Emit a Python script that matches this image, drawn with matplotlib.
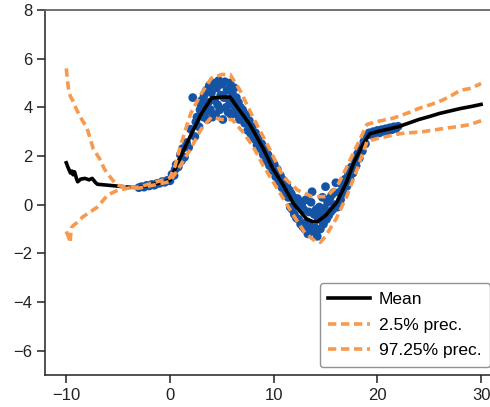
import matplotlib
matplotlib.use("Agg")
import matplotlib.pyplot as plt

plt.rcParams['font.family'] = ['Liberation Sans', 'DejaVu Sans']

# ---- data ----
pts_x = [-3.0, -2.75, -2.5, -2.25, -2.0, -1.75, -1.5, -1.25, -1.0, -0.75, -0.5, -0.25, 0.0,
         0.2, 0.4, 0.5, 0.6, 0.8, 1.0, 1.1, 1.2, 1.4, 1.6, 1.8, 2.0, 2.2, 2.4, 2.5, 2.6, 2.8, 2.9, 3.0,
         3.1, 3.2, 3.3, 3.4, 3.5, 3.6, 3.7, 3.8, 3.9, 4.0, 4.1, 4.2, 4.3, 4.4, 4.5, 4.6, 4.7, 4.8, 4.9,
         5.0, 5.1, 5.2, 5.3, 5.4, 5.5, 5.6, 5.7, 5.8, 5.9, 6.0, 6.1, 6.2, 6.3, 6.4, 6.5, 6.6, 6.7, 6.8,
         6.9, 7.0,
         7.2, 7.35, 7.5, 7.65, 7.8, 7.95, 8.1, 8.25, 8.4, 8.55, 8.7, 8.85, 9.0, 9.15, 9.3, 9.45, 9.6,
         9.75, 9.9, 10.05, 10.2, 10.35, 10.5, 10.65, 10.8, 10.95, 11.1, 11.25, 11.4,
         11.5, 11.6, 11.7, 11.8, 11.9, 12.0, 12.1, 12.2, 12.3, 12.4, 12.5, 12.6, 12.7, 12.8, 12.9,
         13.0, 13.1, 13.2, 13.3, 13.4, 13.5, 13.6, 13.7, 13.8, 13.9, 14.0, 14.1, 14.2, 14.3, 14.4,
         14.5, 14.6, 14.7, 14.8, 14.9, 15.0, 15.1, 15.2, 15.3, 15.4, 15.5, 15.6, 15.7, 15.8, 15.9, 16.0,
         16.15, 16.3, 16.45, 16.6, 16.75, 16.9, 17.05, 17.2, 17.35, 17.5, 17.65, 17.8, 17.95, 18.1,
         18.25, 18.4, 18.55, 18.7, 18.85, 19.0,
         19.2, 19.4, 19.6, 19.8, 20.0, 20.2, 20.4, 20.6, 20.8, 21.0, 21.2, 21.4, 21.6, 21.8, 22.0]
pts_y = [0.70, 0.74, 0.72, 0.79, 0.77, 0.83, 0.80, 0.87, 0.88, 0.95, 0.92, 1.00, 0.98,
         1.25, 1.20, 1.45, 1.65, 1.55, 2.05, 1.80, 2.30, 1.95, 2.55, 2.35, 3.10, 4.40, 2.80, 3.40, 3.60, 3.20, 3.90, 4.10,
         4.30, 3.60, 4.50, 3.80, 4.70, 3.50, 4.20, 4.90, 3.90, 4.60, 3.60, 5.00, 4.30, 3.70, 4.80, 4.10, 5.10, 3.90, 4.50,
         4.95, 3.50, 4.40, 5.05, 4.00, 4.70, 3.80, 4.30, 5.00, 3.70, 4.60, 4.10, 4.80, 3.90, 4.40, 3.70, 4.20, 3.50, 4.00,
         3.60, 3.90,
         3.35, 3.70, 3.05, 3.45, 2.90, 3.20, 2.70, 2.95, 2.45, 2.75, 2.30, 2.50, 2.05, 2.25, 1.80, 2.05, 1.60,
         1.85, 1.40, 1.65, 1.15, 1.45, 0.95, 1.20, 0.70, 1.00, 0.45, 0.80, 0.30,
         0.60, -0.10, 0.45, -0.20, 0.30, -0.40, 0.15, -0.55, 0.25, -0.60, 0.10, -0.80, 0.00, -0.90, -0.20,
         -1.00, 0.20, -0.70, -1.20, -0.30, -0.90, 0.10, 0.53, -1.10, -0.40, -0.95, -0.20, -1.30, -0.60, -0.10,
         -1.00, -0.35, 0.30, -0.80, -0.15, 0.74, -0.60, 0.10, -0.45, 0.25, -0.30, 0.40, -0.20, 0.50, 0.00, 0.90,
         -0.10, 0.50, 0.20, 0.80, 0.45, 1.05, 0.75, 1.30, 1.05, 1.55, 1.30, 1.85, 1.60, 2.10,
         1.90, 2.35, 2.20, 2.60, 2.50, 2.85,
         2.95, 2.87, 3.00, 2.92, 3.05, 2.95, 3.08, 3.00, 3.12, 3.04, 3.16, 3.08, 3.20, 3.13, 3.22]

mean_x = [-10.0, -9.8, -9.6, -9.45, -9.35, -9.2, -9.0, -8.9, -8.6, -8.2, -7.8, -7.5, -7.2, -7.0,
          -6.0, -5.0, -4.0, -3.0, 0.0, 1.0, 2.0, 3.0, 4.0, 5.0, 5.8, 6.5, 7.7, 9.0, 9.9, 11.0, 11.9,
          12.6, 13.2, 13.8, 14.2, 15.0, 16.1, 17.0, 17.7, 18.4, 19.0, 19.3, 20.0, 21.0, 22.0, 23.0,
          24.0, 25.0, 26.0, 27.0, 28.0, 29.0, 30.0]
mean_y = [1.72, 1.50, 1.30, 1.38, 1.23, 1.35, 1.05, 0.94, 1.05, 1.08, 1.02, 1.08, 0.92, 0.84,
          0.80, 0.76, 0.72, 0.70, 1.00, 1.95, 2.85, 3.72, 4.38, 4.42, 4.42, 4.00, 3.30, 2.30, 1.50, 0.75, 0.05,
          -0.30, -0.60, -0.70, -0.70, -0.45, 0.10, 0.90, 1.70, 2.30, 2.75, 2.92, 3.00, 3.10, 3.20, 3.35,
          3.50, 3.62, 3.75, 3.85, 3.95, 4.03, 4.12]

upper_x = [-10.0, -9.8, -9.6, -9.4, -9.0, -8.5, -8.0, -7.4, -6.8, -6.3, -5.7, -5.1, -4.5, -4.0, -3.0,
           0.0, 0.5, 1.0, 2.0, 3.0, 4.0, 5.0, 5.8, 6.75, 8.0, 9.65, 10.9, 12.3, 13.7, 15.1, 16.1, 17.0,
           18.0, 19.0, 20.0, 21.5, 23.0, 24.1, 25.2, 26.3, 27.2, 28.0, 29.0, 30.0]
upper_y = [5.60, 4.80, 4.45, 4.30, 3.90, 3.50, 3.15, 2.30, 1.90, 1.45, 1.10, 0.80, 0.74, 0.72, 0.72,
           1.10, 1.60, 2.40, 3.75, 4.55, 5.20, 5.35, 5.35, 4.70, 3.60, 2.25, 1.15, 0.60, 0.33, 0.33, 0.74, 1.50,
           2.40, 3.30, 3.42, 3.55, 3.78, 3.97, 4.12, 4.30, 4.50, 4.70, 4.78, 4.98]

lower_x = [-10.0, -9.8, -9.65, -9.5, -9.3, -9.0, -8.4, -7.7, -7.0, -6.0, -5.0, -4.0, -3.0,
           0.0, 1.0, 2.0, 3.0, 4.0, 5.0, 6.0, 7.0, 8.0, 9.0, 10.0, 11.0, 12.0, 13.0, 14.0, 14.5, 15.0,
           16.0, 17.0, 18.0, 19.0, 20.0, 22.2, 24.4, 26.7, 28.0, 29.0, 30.0]
lower_y = [-1.10, -1.30, -1.55, -0.95, -0.85, -0.75, -0.50, -0.30, -0.10, 0.40, 0.60, 0.68, 0.68,
           0.95, 1.60, 2.30, 3.10, 3.60, 3.50, 3.50, 3.00, 2.40, 1.60, 0.90, 0.20, -0.50, -1.15, -1.50, -1.55, -1.30,
           -0.60, 0.30, 1.40, 2.60, 2.72, 2.92, 3.00, 3.15, 3.22, 3.30, 3.45]

x_ticks = [-10, 0, 10, 20, 30]
y_ticks = [-6, -4, -2, 0, 2, 4, 6, 8]
legend_labels = ["Mean", "2.5% prec.", "97.25% prec."]

# ---- styling ----
blue = '#1553a5'
orange = '#f8994d'

fig = plt.figure(figsize=(4.9, 4.07), dpi=100)
ax = fig.add_axes([45 / 490, 32 / 407, 445 / 490, 365 / 407])

ax.scatter(pts_x, pts_y, s=40, color=blue, edgecolors='none', zorder=2)
ax.plot(mean_x, mean_y, color='black', lw=2.6, zorder=3, label=legend_labels[0])
ax.plot(lower_x, lower_y, color=orange, lw=2.6, dashes=(2.3, 1.3), zorder=4, label=legend_labels[1])
ax.plot(upper_x, upper_y, color=orange, lw=2.6, dashes=(2.3, 1.3), zorder=4, label=legend_labels[2])

ax.set_xlim(-12.05, 30.86)
ax.set_ylim(-7, 8)
ax.set_xticks(x_ticks)
ax.set_yticks(y_ticks)
ax.set_xticklabels(['\u2212' + str(-t) if t < 0 else str(t) for t in x_ticks])
ax.set_yticklabels(['\u2212' + str(-t) if t < 0 else str(t) for t in y_ticks])

for s in ['left', 'bottom']:
    ax.spines[s].set_color('#222222')
    ax.spines[s].set_linewidth(1.1)
ax.spines['top'].set_color('#666666')
ax.spines['top'].set_linewidth(1.3)
ax.spines['right'].set_visible(False)
ax.tick_params(direction='out', length=6, width=1.1, colors='#222222', labelsize=12, pad=3)

leg = ax.legend(loc='lower right', bbox_to_anchor=(1.0, 8 / 365), borderaxespad=0,
                fontsize=12.5, frameon=True, fancybox=True, edgecolor='#777777',
                handlelength=2.4, handletextpad=0.5, borderpad=0.5, labelspacing=0.6)
leg.get_frame().set_linewidth(1.0)

fig.savefig('out.png', dpi=100)
